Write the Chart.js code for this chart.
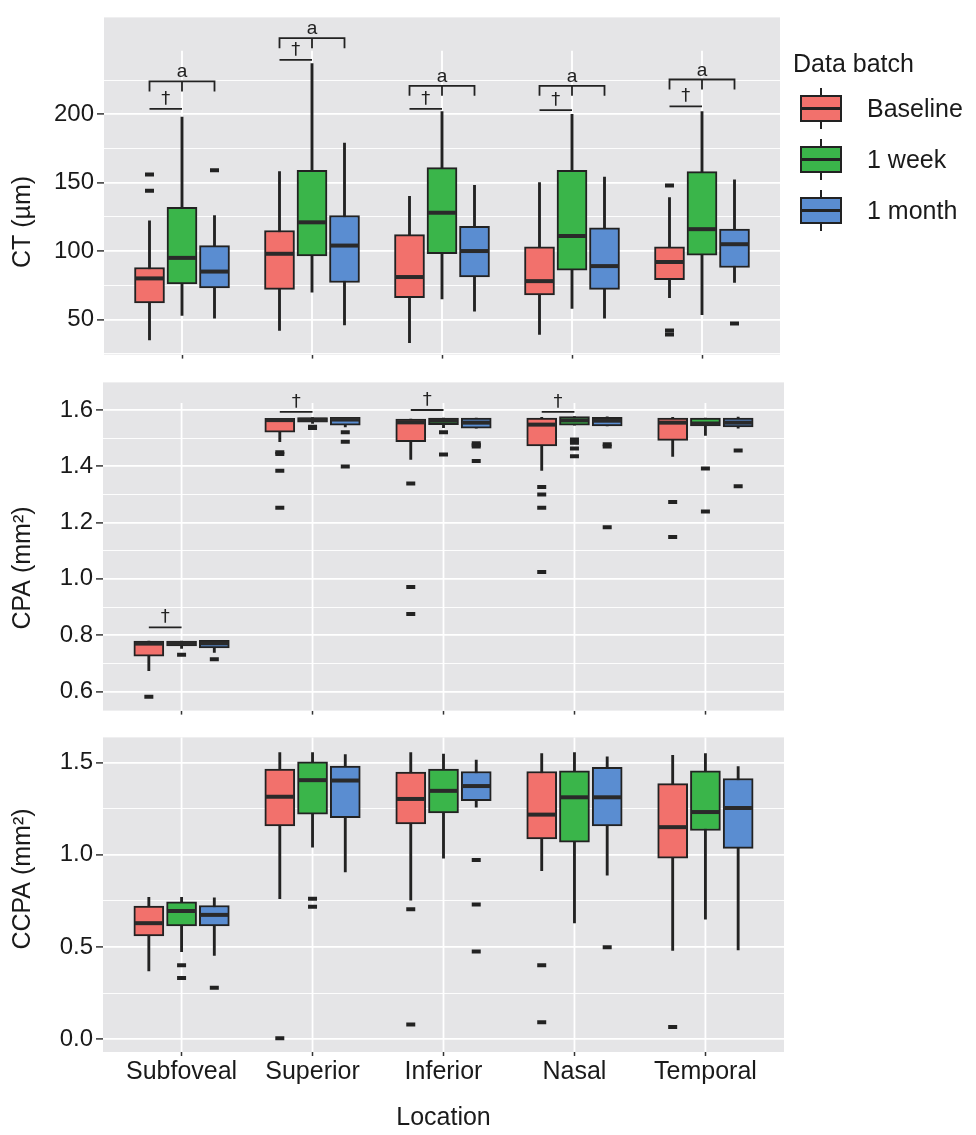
<!DOCTYPE html>
<html>
<head>
<meta charset="utf-8">
<script src="https://cdn.jsdelivr.net/npm/chart.js@4.4.1/dist/chart.umd.min.js"></script>
<style>
body{margin:0;background:#fff;width:976px;height:1135px;position:relative;overflow:hidden;font-family:"Liberation Sans",Arial,sans-serif;color:#1a1a1a}
canvas{position:absolute;left:0}
#legend{position:absolute;left:0;top:0}
#legend .title{position:absolute;left:793px;top:48px;font-size:25px;line-height:30px;white-space:nowrap}
.key{position:absolute;left:800px;height:41px;width:170px}
.glyph{position:absolute;left:0;top:7px;width:42px;height:27px;box-sizing:border-box;border:2px solid #222}
.glyph::before{content:"";position:absolute;left:0;right:0;top:50%;height:2.4px;margin-top:-1.2px;background:#222}
.glyph::after{content:"";position:absolute;left:50%;width:2.2px;margin-left:-1.1px;top:-9px;bottom:-9px;
  background:linear-gradient(#222 0 7px,transparent 7px calc(100% - 7px),#222 calc(100% - 7px))}
.key .lab{position:absolute;left:67px;top:0;line-height:41px;font-size:25px;white-space:nowrap}
</style>
</head>
<body>
<canvas id="g_ct" width="976" height="372" style="top:0"></canvas>
<canvas id="g_cpa" width="976" height="363" style="top:365px"></canvas>
<canvas id="g_ccpa" width="976" height="415" style="top:720px"></canvas>
<div id="legend"><div class="title">Data batch</div></div>
<script>
// categories and groups
var locations = ['Subfoveal', 'Superior', 'Inferior', 'Nasal', 'Temporal'];
var batches = ['Baseline', '1 week', '1 month'];
var fills = ['#F2716C', '#3AB54A', '#5A8DD1'];
var dodge = [-0.25, 0, 0.25];

// box stats per location: [lower whisker, Q1, median, Q3, upper whisker]
var ctBaseline = [[35, 62, 80, 88, 122], [42, 72, 98, 115, 158], [33, 66, 81, 112, 140], [39, 68, 78, 103, 150], [66, 79, 92, 103, 139]];
var ctWeek     = [[53, 76, 95, 132, 198], [70, 96.5, 121, 159, 237], [65, 98, 128, 161, 202], [58, 86, 111, 159, 200], [53.5, 97, 116, 158, 202]];
var ctMonth    = [[51, 73, 85, 104, 126], [46, 77, 104, 126, 179], [56, 81, 100, 118, 148], [51, 72, 89, 117, 154], [77, 88, 105, 116, 152]];
var ctOutBaseline = [[156, 144], [], [], [], [148, 42, 39]];
var ctOutWeek     = [[], [], [], [], []];
var ctOutMonth    = [[159], [], [], [], [47]];
var ctBracket = [224, 255.6, 220.8, 220.8, 225.4];   // "a" brackets
var ctDagger  = [204, 239.8, 204, 203, 205.8];       // dagger bars

var cpaBaseline = [[0.674, 0.725, 0.770, 0.779, 0.779], [1.487, 1.521, 1.564, 1.570, 1.570], [1.424, 1.487, 1.556, 1.568, 1.568], [1.385, 1.472, 1.548, 1.571, 1.574], [1.435, 1.492, 1.555, 1.571, 1.574]];
var cpaWeek     = [[0.753, 0.762, 0.771, 0.779, 0.779], [1.552, 1.557, 1.565, 1.573, 1.573], [1.537, 1.548, 1.562, 1.571, 1.571], [1.546, 1.546, 1.563, 1.577, 1.577], [1.510, 1.543, 1.552, 1.571, 1.571]];
var cpaMonth    = [[0.739, 0.755, 0.771, 0.782, 0.782], [1.540, 1.546, 1.566, 1.574, 1.574], [1.535, 1.535, 1.555, 1.571, 1.571], [1.543, 1.543, 1.562, 1.574, 1.576], [1.535, 1.540, 1.555, 1.571, 1.575]];
var cpaOutBaseline = [[0.581], [1.450, 1.444, 1.384, 1.253], [1.339, 0.971, 0.875], [1.326, 1.300, 1.253, 1.024], [1.273, 1.149]];
var cpaOutWeek     = [[0.730], [1.540, 1.536], [1.521, 1.442], [1.495, 1.484, 1.463, 1.436], [1.392, 1.239]];
var cpaOutMonth    = [[0.714], [1.521, 1.487, 1.399], [1.482, 1.476, 1.470, 1.419], [1.478, 1.470, 1.183], [1.456, 1.329]];
var cpaDagger = [0.828, 1.593, 1.600, 1.593, null];

var ccpaBaseline = [[0.370, 0.560, 0.629, 0.722, 0.769], [0.762, 1.157, 1.315, 1.465, 1.555], [0.754, 1.167, 1.303, 1.449, 1.555], [0.914, 1.086, 1.218, 1.452, 1.549], [0.481, 0.982, 1.150, 1.386, 1.540]];
var ccpaWeek     = [[0.475, 0.614, 0.695, 0.745, 0.769], [1.042, 1.220, 1.405, 1.505, 1.555], [0.982, 1.227, 1.347, 1.465, 1.546], [0.630, 1.069, 1.312, 1.456, 1.555], [0.651, 1.132, 1.232, 1.456, 1.549]];
var ccpaMonth    = [[0.454, 0.614, 0.674, 0.725, 0.766], [0.907, 1.201, 1.403, 1.482, 1.544], [1.259, 1.294, 1.373, 1.452, 1.514], [0.889, 1.157, 1.312, 1.474, 1.532], [0.484, 1.035, 1.254, 1.414, 1.479]];
var ccpaOutBaseline = [[], [0.005], [0.704, 0.079], [0.401, 0.092], [0.065]];
var ccpaOutWeek     = [[0.401, 0.331], [0.762, 0.718], [], [], []];
var ccpaOutMonth    = [[0.278], [], [0.972, 0.731, 0.475], [0.498], []];

// axis ticks
var ctMajor = [50, 100, 150, 200], ctMinor = [25, 75, 125, 175, 225];
var cpaMajor = [0.6, 0.8, 1.0, 1.2, 1.4, 1.6], cpaMinor = [0.7, 0.9, 1.1, 1.3, 1.5];
var ccpaMajor = [0.0, 0.5, 1.0, 1.5], ccpaMinor = [0.25, 0.75, 1.25];

Chart.defaults.font.family = "'Liberation Sans', Arial, sans-serif";
Chart.defaults.color = '#1a1a1a';

var INK = '#222';
var PANEL = '#E5E5E7';

function isIn(v, list) {
    return list.some(function (m) { return Math.abs(m - v) < 1e-6; });
}

var ggPanel = {
    id: 'ggPanel',
    beforeDraw: function (chart) {
        var a = chart.chartArea, ctx = chart.ctx;
        ctx.save();
        ctx.fillStyle = PANEL;
        ctx.fillRect(a.left, a.top, a.right - a.left, a.bottom - a.top);
        ctx.restore();
    },
    beforeDatasetsDraw: function (chart, args, opts) {
        var a = chart.chartArea, ctx = chart.ctx, xs = chart.scales.x, ys = chart.scales.y;
        var top = opts.vTop != null ? ys.getPixelForValue(opts.vTop) : a.top;
        ctx.save();
        ctx.strokeStyle = '#fff';
        ctx.lineWidth = 1.8;
        locations.forEach(function (l, i) {
            var px = xs.getPixelForValue(i);
            ctx.beginPath();
            ctx.moveTo(px, top);
            ctx.lineTo(px, a.bottom);
            ctx.stroke();
        });
        ctx.restore();
    },
    afterDatasetsDraw: function (chart, args, opts) {
        var ctx = chart.ctx, xs = chart.scales.x, ys = chart.scales.y;
        ctx.save();
        // medians
        chart.data.datasets.forEach(function (ds, d) {
            if (!ds.medians) return;
            var meta = chart.getDatasetMeta(d);
            meta.data.forEach(function (el, j) {
                var y = ys.getPixelForValue(ds.medians[j]);
                ctx.strokeStyle = '#2a2a2a';
                ctx.lineWidth = 4;
                ctx.beginPath();
                ctx.moveTo(el.x - el.width / 2 + 1, y);
                ctx.lineTo(el.x + el.width / 2 - 1, y);
                ctx.stroke();
            });
        });
        // significance marks
        ctx.strokeStyle = INK;
        ctx.fillStyle = INK;
        ctx.lineWidth = 1.8;
        ctx.textAlign = 'center';
        ctx.textBaseline = 'alphabetic';
        locations.forEach(function (l, i) {
            var xr = xs.getPixelForValue(i + dodge[0]);
            var xg = xs.getPixelForValue(i + dodge[1]);
            var xb = xs.getPixelForValue(i + dodge[2]);
            if (opts.bracket && opts.bracket[i] != null) {
                var y = ys.getPixelForValue(opts.bracket[i]);
                ctx.beginPath();
                ctx.moveTo(xr, y + 10); ctx.lineTo(xr, y); ctx.lineTo(xb, y); ctx.lineTo(xb, y + 10);
                ctx.moveTo(xg, y); ctx.lineTo(xg, y + 10);
                ctx.stroke();
                ctx.font = "19px 'Liberation Sans', Arial, sans-serif";
                ctx.fillText('a', xg, y - 4);
            }
            if (opts.dagger && opts.dagger[i] != null) {
                var yd = ys.getPixelForValue(opts.dagger[i]);
                ctx.beginPath();
                ctx.moveTo(xr, yd); ctx.lineTo(xg, yd);
                ctx.stroke();
                ctx.font = "18px 'DejaVu Sans', 'Liberation Sans', sans-serif";
                ctx.fillText('\u2020', (xr + xg) / 2, yd - 5);
            }
        });
        ctx.restore();
    },
    afterDraw: function (chart, args, opts) {
        var ctx = chart.ctx;
        ctx.save();
        ctx.translate(23, opts.titleY);
        ctx.rotate(-Math.PI / 2);
        ctx.font = "25px 'Liberation Sans', Arial, sans-serif";
        ctx.fillStyle = '#1a1a1a';
        ctx.textAlign = 'center';
        ctx.textBaseline = 'middle';
        ctx.fillText(opts.title, 0, 0);
        ctx.restore();
    }
};

function boxDatasets(groups, outliers) {
    var sets = [];
    groups.forEach(function (stats, b) {
        sets.push({
            type: 'bar', label: batches[b], order: 2, grouped: false,
            data: stats.map(function (s, i) { return { x: i + dodge[b], y: [s[0], s[4]] }; }),
            backgroundColor: INK, borderWidth: 0, barThickness: 2.2
        });
        sets.push({
            type: 'bar', label: batches[b], order: 1, grouped: false,
            data: stats.map(function (s, i) { return { x: i + dodge[b], y: [s[1], s[3]] }; }),
            medians: stats.map(function (s) { return s[2]; }),
            backgroundColor: fills[b], borderColor: INK, borderWidth: 2,
            borderSkipped: false, barThickness: 30
        });
        var pts = [];
        outliers[b].forEach(function (list, i) {
            list.forEach(function (v) { pts.push({ x: i + dodge[b], y: v }); });
        });
        sets.push({
            type: 'scatter', label: batches[b] + ' outliers', order: 0, data: pts,
            pointStyle: 'line', radius: 4.5, borderWidth: 4, borderColor: INK
        });
    });
    return sets;
}

function drawPanel(id, cfg) {
    return new Chart(document.getElementById(id), {
        type: 'bar',
        data: { datasets: boxDatasets(cfg.groups, cfg.outliers) },
        options: {
            responsive: false,
            animation: false,
            layout: { padding: { left: 0, right: cfg.padRight, top: 8, bottom: 0 } },
            plugins: {
                legend: { display: false },
                tooltip: { enabled: false },
                ggPanel: { vTop: cfg.vTop, bracket: cfg.bracket, dagger: cfg.dagger, title: cfg.title, titleY: cfg.titleY }
            },
            scales: {
                x: {
                    type: 'linear', min: -0.6, max: 4.6, offset: false,
                    afterBuildTicks: function (s) { s.ticks = locations.map(function (l, i) { return { value: i }; }); },
                    afterFit: function (s) { s.height = cfg.xHeight; },
                    ticks: {
                        autoSkip: false, maxRotation: 0, padding: 1, font: { size: 25 }, color: '#1a1a1a',
                        callback: function (v) { return cfg.showX ? locations[v] : ''; }
                    },
                    grid: { drawOnChartArea: false, offset: false, tickLength: 4, tickColor: '#333', tickWidth: 1.5 },
                    border: { display: false },
                    title: { display: cfg.showX, text: 'Location', font: { size: 25 }, color: '#1a1a1a', padding: { top: 0, bottom: 2 } }
                },
                y: {
                    type: 'linear', min: cfg.yMin, max: cfg.yMax,
                    afterBuildTicks: function (s) {
                        s.ticks = cfg.major.concat(cfg.minor).sort(function (a, b) { return a - b; })
                            .map(function (v) { return { value: v }; });
                    },
                    afterFit: function (s) { s.width = cfg.yWidth; },
                    ticks: {
                        autoSkip: false, padding: 3, font: { size: 24 }, color: '#1a1a1a',
                        callback: function (v) { return isIn(v, cfg.major) ? cfg.fmt(v) : ''; }
                    },
                    grid: {
                        color: '#fff', tickLength: 7, tickWidth: 1.5,
                        lineWidth: function (c) { return c.tick && isIn(c.tick.value, cfg.major) ? 1.8 : 0.9; },
                        tickColor: function (c) { return c.tick && isIn(c.tick.value, cfg.major) ? '#333' : 'rgba(0,0,0,0)'; }
                    },
                    border: { display: false }
                }
            }
        },
        plugins: [ggPanel]
    });
}

drawPanel('g_ct', {
    groups: [ctBaseline, ctWeek, ctMonth], outliers: [ctOutBaseline, ctOutWeek, ctOutMonth],
    yMin: 24.3, yMax: 270.8, major: ctMajor, minor: ctMinor, fmt: function (v) { return String(v); },
    yWidth: 104, xHeight: 9, padRight: 196, showX: false, vTop: 246.5,
    bracket: ctBracket, dagger: ctDagger, title: 'CT (\u00b5m)', titleY: 222
});

drawPanel('g_cpa', {
    groups: [cpaBaseline, cpaWeek, cpaMonth], outliers: [cpaOutBaseline, cpaOutWeek, cpaOutMonth],
    yMin: 0.532, yMax: 1.698, major: cpaMajor, minor: cpaMinor, fmt: function (v) { return v.toFixed(1); },
    yWidth: 103, xHeight: 10, padRight: 192, showX: false, vTop: 1.625,
    bracket: null, dagger: cpaDagger, title: 'CPA (mm\u00b2)', titleY: 203
});

drawPanel('g_ccpa', {
    groups: [ccpaBaseline, ccpaWeek, ccpaMonth], outliers: [ccpaOutBaseline, ccpaOutWeek, ccpaOutMonth],
    yMin: -0.07, yMax: 1.637, major: ccpaMajor, minor: ccpaMinor, fmt: function (v) { return v.toFixed(1); },
    yWidth: 103, xHeight: 83, padRight: 192, showX: true, vTop: null,
    bracket: null, dagger: null, title: 'CCPA (mm\u00b2)', titleY: 159
});

// legend keys
var legend = document.getElementById('legend');
batches.forEach(function (b, k) {
    var row = document.createElement('div');
    row.className = 'key';
    row.style.top = (88 + k * 51) + 'px';
    row.innerHTML = '<span class="glyph" style="background:' + fills[k] + '"></span><span class="lab">' + b + '</span>';
    legend.appendChild(row);
});
</script>
</body>
</html>
